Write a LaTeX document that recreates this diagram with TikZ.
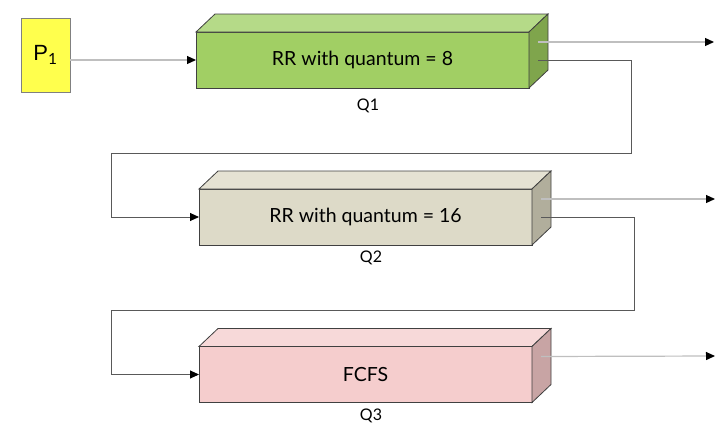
\documentclass[tikz,border=0pt]{standalone}
\usepackage{fontspec}
\setmainfont{Lato}
\newfontfamily\arialfont{Liberation Sans}
\usetikzlibrary{arrows.meta,calc}

\definecolor{qonefront}{HTML}{A1CF64}
\definecolor{qonetop}{HTML}{B5DA88}
\definecolor{qoneside}{HTML}{7FA54C}
\definecolor{qtwofront}{HTML}{DDDAC8}
\definecolor{qtwotop}{HTML}{E5E2D3}
\definecolor{qtwoside}{HTML}{B1AE9C}
\definecolor{qthreefront}{HTML}{F5CDCD}
\definecolor{qthreetop}{HTML}{F7D9D9}
\definecolor{qthreeside}{HTML}{C8A4A4}
\definecolor{procyellow}{HTML}{FFFF4D}

% top and side faces of a queue box
\newcommand{\boxfaces}[3]{%
  \filldraw[outline,fill=#2] (#1.north west) -- ++(19,-18) -- ($(#1.north east)+(19,-18)$) -- (#1.north east) -- cycle;
  \filldraw[outline,fill=#3] (#1.north east) -- ++(19,-18) -- ++(0,56) -- (#1.south east) -- cycle;}

\begin{document}
\begin{tikzpicture}[x=1pt,y=-1pt,
    queue/.style={draw=black!75,line width=0.8pt,minimum width=333pt,minimum height=56pt,inner sep=0pt,outer sep=0pt,font=\fontsize{19.5}{22}\selectfont},
    outline/.style={draw=black!75,line width=0.8pt},
    outln/.style={draw=black!25,line width=1.2pt,-{Triangle[length=9pt,width=8pt,color=black]}},
    backln/.style={draw=black!65,line width=0.9pt,-{Triangle[length=9pt,width=8pt,color=black]}},
    qlabel/.style={font=\fontsize{16}{18}\selectfont}]
    \useasboundingbox (0,0) rectangle (724,440);

    \node[draw=black!50,line width=0.8pt,fill=procyellow,minimum width=49pt,minimum height=74pt,inner sep=0pt,outer sep=0pt,font=\arialfont\fontsize{22}{24}\selectfont] (p1) at (45.5,55) {P$_{\mathrm{1}}$};

    \node[queue,fill=qonefront] (q1) at (362.5,60) {RR with quantum = 8};
    \boxfaces{q1}{qonetop}{qoneside}
    \node[qlabel] (l1) at (368,106) {Q1};

    \node[queue,fill=qtwofront] (q2) at (365.5,217) {RR with quantum = 16};
    \boxfaces{q2}{qtwotop}{qtwoside}
    \node[qlabel] (l2) at (371,258) {Q2};

    \node[queue,fill=qthreefront] (q3) at (365.5,374.5) {FCFS};
    \boxfaces{q3}{qthreetop}{qthreeside}
    \node[qlabel] (l3) at (371,416) {Q3};

    % exits on the side faces
    \coordinate (o1) at ($(q1.north east)+(9,10)$);
    \coordinate (b1) at ($(q1.north east)+(9,28)$);
    \coordinate (o2) at ($(q2.north east)+(9,10)$);
    \coordinate (b2) at ($(q2.north east)+(9,28)$);
    \coordinate (o3) at ($(q3.north east)+(9,10)$);
    \coordinate (e1) at (714,42);
    \coordinate (e2) at (715,199);
    \coordinate (e3) at (715,356);
    \coordinate (r1) at (631,153);
    \coordinate (r2) at (634,310);

    \draw[outln] (p1.east |- q1.west) -- (q1.west);
    \draw[outln] (o1) -- (e1);
    \draw[outln] (o2) -- (e2);
    \draw[outln] (o3) -- (e3);
    \draw[backln] (b1) -| (r1) -| ($(q2.west)-(88,0)$) -- (q2.west);
    \draw[backln] (b2) -| (r2) -| ($(q3.west)-(88,0)$) -- (q3.west);
\end{tikzpicture}
\end{document}
